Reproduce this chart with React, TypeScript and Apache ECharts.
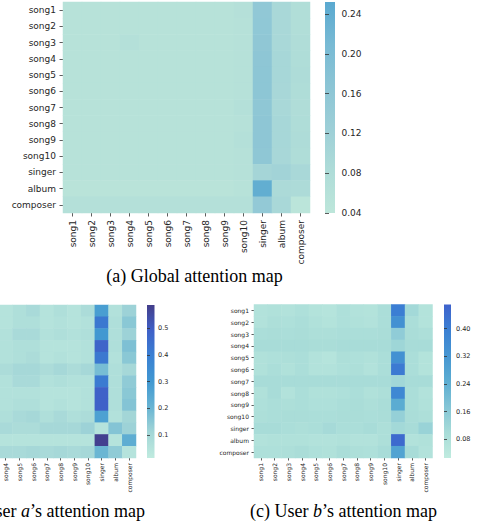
import React, { useEffect, useRef } from "react";
import * as echarts from "echarts";

const categories = [
  "song1", "song2", "song3", "song4", "song5", "song6", "song7",
  "song8", "song9", "song10", "singer", "album", "composer",
];

// rows top-to-bottom (song1 ... composer), columns left-to-right (song1 ... composer)
const globalAttention = [
  [0.058, 0.058, 0.058, 0.058, 0.058, 0.058, 0.058, 0.058, 0.058, 0.064, 0.155, 0.096, 0.075],
  [0.058, 0.058, 0.058, 0.058, 0.058, 0.058, 0.058, 0.058, 0.058, 0.060, 0.156, 0.096, 0.075],
  [0.058, 0.058, 0.058, 0.065, 0.058, 0.058, 0.058, 0.058, 0.058, 0.060, 0.158, 0.096, 0.077],
  [0.058, 0.058, 0.058, 0.058, 0.058, 0.058, 0.058, 0.058, 0.058, 0.060, 0.162, 0.100, 0.080],
  [0.058, 0.058, 0.058, 0.058, 0.058, 0.058, 0.058, 0.058, 0.058, 0.060, 0.165, 0.100, 0.082],
  [0.058, 0.058, 0.058, 0.058, 0.058, 0.058, 0.058, 0.058, 0.058, 0.060, 0.165, 0.098, 0.080],
  [0.058, 0.058, 0.058, 0.058, 0.058, 0.058, 0.058, 0.058, 0.058, 0.065, 0.160, 0.096, 0.078],
  [0.058, 0.058, 0.058, 0.058, 0.058, 0.058, 0.058, 0.058, 0.058, 0.061, 0.163, 0.100, 0.080],
  [0.058, 0.058, 0.058, 0.058, 0.058, 0.058, 0.058, 0.058, 0.058, 0.065, 0.163, 0.100, 0.082],
  [0.058, 0.058, 0.058, 0.058, 0.058, 0.058, 0.058, 0.058, 0.058, 0.061, 0.160, 0.098, 0.080],
  [0.058, 0.058, 0.058, 0.058, 0.058, 0.058, 0.058, 0.058, 0.058, 0.060, 0.105, 0.112, 0.095],
  [0.052, 0.052, 0.052, 0.052, 0.052, 0.052, 0.052, 0.052, 0.052, 0.057, 0.240, 0.088, 0.085],
  [0.065, 0.065, 0.065, 0.065, 0.065, 0.065, 0.065, 0.065, 0.065, 0.066, 0.150, 0.095, 0.046],
];

const userAAttention = [
  [0.06, 0.07, 0.06, 0.05, 0.07, 0.09, 0.05, 0.07, 0.05, 0.08, 0.28, 0.06, 0.12],
  [0.06, 0.06, 0.07, 0.05, 0.07, 0.07, 0.05, 0.06, 0.05, 0.06, 0.42, 0.07, 0.15],
  [0.07, 0.08, 0.07, 0.06, 0.09, 0.09, 0.06, 0.07, 0.06, 0.07, 0.30, 0.07, 0.12],
  [0.06, 0.06, 0.06, 0.06, 0.07, 0.07, 0.05, 0.05, 0.05, 0.06, 0.48, 0.07, 0.17],
  [0.06, 0.07, 0.06, 0.06, 0.07, 0.08, 0.05, 0.06, 0.05, 0.06, 0.42, 0.06, 0.15],
  [0.08, 0.09, 0.08, 0.08, 0.10, 0.10, 0.08, 0.10, 0.08, 0.10, 0.18, 0.07, 0.10],
  [0.06, 0.08, 0.07, 0.06, 0.09, 0.09, 0.06, 0.07, 0.06, 0.06, 0.41, 0.07, 0.14],
  [0.06, 0.06, 0.06, 0.06, 0.06, 0.06, 0.05, 0.05, 0.05, 0.06, 0.49, 0.07, 0.15],
  [0.06, 0.07, 0.06, 0.06, 0.07, 0.07, 0.05, 0.06, 0.05, 0.06, 0.49, 0.07, 0.16],
  [0.07, 0.08, 0.08, 0.07, 0.09, 0.10, 0.07, 0.09, 0.07, 0.08, 0.27, 0.06, 0.11],
  [0.09, 0.09, 0.10, 0.09, 0.08, 0.08, 0.10, 0.10, 0.10, 0.12, 0.05, 0.16, 0.12],
  [0.05, 0.05, 0.05, 0.05, 0.05, 0.05, 0.05, 0.05, 0.05, 0.05, 0.58, 0.05, 0.23],
  [0.09, 0.10, 0.09, 0.09, 0.09, 0.10, 0.09, 0.10, 0.09, 0.10, 0.20, 0.14, 0.05],
];

const userBAttention = [
  [0.070, 0.075, 0.070, 0.080, 0.065, 0.060, 0.080, 0.070, 0.065, 0.090, 0.40, 0.110, 0.065],
  [0.070, 0.085, 0.080, 0.090, 0.075, 0.065, 0.080, 0.075, 0.070, 0.090, 0.34, 0.090, 0.065],
  [0.090, 0.095, 0.090, 0.095, 0.085, 0.085, 0.090, 0.090, 0.090, 0.095, 0.15, 0.095, 0.085],
  [0.100, 0.100, 0.100, 0.100, 0.095, 0.095, 0.100, 0.100, 0.100, 0.100, 0.12, 0.100, 0.100],
  [0.075, 0.080, 0.085, 0.090, 0.070, 0.060, 0.085, 0.080, 0.075, 0.090, 0.34, 0.090, 0.065],
  [0.075, 0.090, 0.075, 0.090, 0.070, 0.070, 0.080, 0.085, 0.070, 0.090, 0.41, 0.090, 0.065],
  [0.100, 0.100, 0.100, 0.100, 0.100, 0.100, 0.100, 0.100, 0.100, 0.100, 0.115, 0.100, 0.100],
  [0.075, 0.100, 0.070, 0.090, 0.075, 0.075, 0.080, 0.090, 0.075, 0.085, 0.37, 0.090, 0.070],
  [0.080, 0.090, 0.085, 0.090, 0.080, 0.080, 0.090, 0.095, 0.085, 0.095, 0.25, 0.090, 0.075],
  [0.085, 0.090, 0.095, 0.095, 0.090, 0.090, 0.095, 0.095, 0.090, 0.095, 0.14, 0.095, 0.085],
  [0.100, 0.100, 0.090, 0.085, 0.090, 0.105, 0.090, 0.090, 0.100, 0.085, 0.11, 0.100, 0.130],
  [0.070, 0.075, 0.075, 0.075, 0.070, 0.070, 0.075, 0.070, 0.070, 0.085, 0.45, 0.070, 0.075],
  [0.080, 0.080, 0.085, 0.095, 0.080, 0.075, 0.095, 0.085, 0.080, 0.100, 0.28, 0.100, 0.070],
];

const globalRange = [0.04, 0.252];
const userARange = [0.014, 0.587];
const userBRange = [0.026, 0.47];

const globalTicks = [0.04, 0.08, 0.12, 0.16, 0.2, 0.24];
const userATicks = [0.1, 0.2, 0.3, 0.4, 0.5];
const userBTicks = [0.08, 0.16, 0.24, 0.32, 0.4];

const globalColors = ["#bde6da", "#aedcd8", "#9dcfd7", "#8cc5d5", "#78bad4", "#5aa9d0"];
const userAColors = ["#c0ebdf", "#a3d6d7", "#68b4d3", "#4198d1", "#3a80d3", "#3f60c8", "#433e8a"];
const userBColors = ["#c0ebdf", "#a8dcd8", "#84c5d6", "#5cadd2", "#4696d2", "#3b80d3", "#3e62cc"];

const captionA = "(a) Global attention map";
const captionB = ["(b) User ", "a", "’s attention map"];
const captionC = ["(c) User ", "b", "’s attention map"];

const LABEL_FONT = "DejaVu Sans";
const SERIF = "Liberation Serif";
const TEXT_COLOR = "#262626";

type Panel = {
  grid: { left: number; top: number; width: number; height: number };
  bar: { left: number; top: number; width: number; height: number };
  matrix: number[][];
  range: number[];
  ticks: number[];
  decimals: number;
  colors: string[];
  fontSize: number;
  tickLen: number;
  labelMargin: number;
  barFontSize: number;
  barMargin: number;
  // this subfigure is cropped at the page's left edge in the reference
  cropped: boolean;
};

const panels: Panel[] = [
  {
    grid: { left: 63, top: 2, width: 247, height: 211 },
    bar: { left: 325, top: 2, width: 10, height: 211 },
    matrix: globalAttention,
    range: globalRange,
    ticks: globalTicks,
    decimals: 2,
    colors: globalColors,
    fontSize: 9,
    tickLen: 3.5,
    labelMargin: 7,
    barFontSize: 9,
    barMargin: 6.5,
    cropped: false,
  },
  {
    grid: { left: -42.3, top: 305, width: 178.3, height: 153 },
    bar: { left: 147, top: 305, width: 7.5, height: 153 },
    matrix: userAAttention,
    range: userARange,
    ticks: userATicks,
    decimals: 1,
    colors: userAColors,
    fontSize: 6,
    tickLen: 2.5,
    labelMargin: 5,
    barFontSize: 6.5,
    barMargin: 3.5,
    cropped: true,
  },
  {
    grid: { left: 254, top: 304.5, width: 178.5, height: 153.5 },
    bar: { left: 444, top: 304.5, width: 7, height: 153.5 },
    matrix: userBAttention,
    range: userBRange,
    ticks: userBTicks,
    decimals: 2,
    colors: userBColors,
    fontSize: 6,
    tickLen: 2.5,
    labelMargin: 5,
    barFontSize: 6.5,
    barMargin: 5,
    cropped: false,
  },
];

function toCells(matrix: number[][]) {
  const out: number[][] = [];
  matrix.forEach((row, yi) => row.forEach((v, xi) => out.push([xi, yi, v])));
  return out;
}

function buildOption() {
  const grid: any[] = [];
  const xAxis: any[] = [];
  const yAxis: any[] = [];
  const series: any[] = [];
  const visualMap: any[] = [];
  const graphic: any[] = [];

  panels.forEach((p, i) => {
    const hg = 2 * i;
    const bg = 2 * i + 1;
    grid.push({ ...p.grid, containLabel: false, outerBoundsMode: "none" });
    grid.push({ ...p.bar, containLabel: false, outerBoundsMode: "none" });

    const tickStyle = { color: "#333", width: 0.8 };
    const labelStyle = {
      fontSize: p.fontSize,
      fontFamily: LABEL_FONT,
      color: TEXT_COLOR,
      margin: p.labelMargin,
    };
    xAxis.push({
      gridIndex: hg,
      type: "category",
      data: categories,
      position: "bottom",
      axisLine: { show: false },
      axisTick: { show: true, alignWithLabel: true, length: p.tickLen, lineStyle: tickStyle, interval: 0 },
      axisLabel: {
        ...labelStyle,
        rotate: 90,
        // in the cropped subfigure the first three labels fall off the page
        interval: p.cropped ? (idx: number) => idx >= 3 : 0,
      },
      splitLine: { show: false },
    });
    xAxis.push({ gridIndex: bg, type: "value", show: false });
    yAxis.push({
      gridIndex: hg,
      type: "category",
      data: categories,
      inverse: true,
      axisLine: { show: false },
      axisTick: { show: !p.cropped, alignWithLabel: true, length: p.tickLen, lineStyle: tickStyle, interval: 0 },
      axisLabel: { ...labelStyle, interval: 0, show: !p.cropped },
      splitLine: { show: false },
    });
    yAxis.push({
      gridIndex: bg,
      type: "value",
      min: p.range[0],
      max: p.range[1],
      position: "right",
      axisLine: { show: false },
      splitLine: { show: false },
      axisTick: { show: true, length: p.tickLen + 0.5, lineStyle: tickStyle, customValues: p.ticks },
      axisLabel: {
        customValues: p.ticks,
        formatter: (v: number) => v.toFixed(p.decimals),
        fontSize: p.barFontSize,
        fontFamily: LABEL_FONT,
        color: TEXT_COLOR,
        margin: p.barMargin,
      },
    });

    series.push({
      type: "heatmap",
      xAxisIndex: hg,
      yAxisIndex: hg,
      data: toCells(p.matrix),
      emphasis: { disabled: true },
      progressive: 0,
    });

    visualMap.push({
      type: "continuous",
      seriesIndex: i,
      dimension: 2,
      min: p.range[0],
      max: p.range[1],
      show: false,
      inRange: { color: p.colors },
    });

    graphic.push({
      type: "rect",
      silent: true,
      shape: { x: p.bar.left, y: p.bar.top, width: p.bar.width, height: p.bar.height },
      style: {
        fill: {
          type: "linear",
          x: 0,
          y: 1,
          x2: 0,
          y2: 0,
          colorStops: p.colors.map((c, k) => ({ offset: k / (p.colors.length - 1), color: c })),
        },
      },
    });
  });

  const capBase = { fontFamily: SERIF, fontSize: 18, fill: "#000" };
  graphic.push({
    type: "text",
    x: 194.5,
    y: 276,
    style: { ...capBase, text: captionA, align: "center", verticalAlign: "middle" },
  });
  const richText = (parts: string[]) => `{n|${parts[0]}}{i|${parts[1]}}{n|${parts[2]}}`;
  const rich = {
    n: { ...capBase },
    i: { ...capBase, fontStyle: "italic" },
  };
  graphic.push({
    type: "text",
    x: 145,
    y: 511,
    style: { ...capBase, text: richText(captionB), rich, align: "right", verticalAlign: "middle" },
  });
  graphic.push({
    type: "text",
    x: 343.5,
    y: 511,
    style: { ...capBase, text: richText(captionC), rich, align: "center", verticalAlign: "middle" },
  });

  return {
    animation: false,
    backgroundColor: "#fff",
    grid,
    xAxis,
    yAxis,
    visualMap,
    series,
    graphic,
  };
}

export default function App() {
  const ref = useRef<HTMLDivElement>(null);
  useEffect(() => {
    if (!ref.current) return;
    const chart = echarts.init(ref.current, undefined, { renderer: "svg" });
    chart.setOption(buildOption() as any);
    return () => chart.dispose();
  }, []);
  return (
    <div
      ref={ref}
      style={{ position: "fixed", left: 0, top: 0, width: 483, height: 525, background: "#fff" }}
    />
  );
}
